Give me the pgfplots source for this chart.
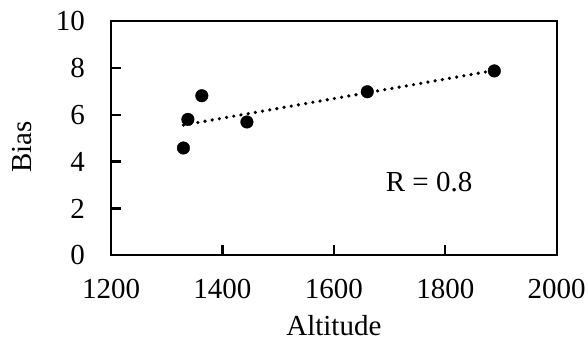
\documentclass[border=0pt]{standalone}
\usepackage{fontspec}
\setmainfont{Liberation Serif}
\usepackage{pgfplots}
\pgfplotsset{compat=1.18}
\begin{document}
\fontsize{29pt}{34pt}\selectfont
\begin{tikzpicture}
\begin{axis}[
  scale only axis, width=445.7pt, height=234.3pt,
  xmin=1200, xmax=2000, ymin=0, ymax=10,
  xtick={1200,1400,1600,1800,2000}, ytick={0,2,4,6,8,10},
  tick align=inside, xtick pos=bottom, ytick pos=left,
  major tick length=10pt,
  axis line style={line width=2.2pt},
  every tick/.style={black, line width=2.2pt},
  /pgf/number format/assume math mode=true,
  /pgf/number format/1000 sep={},
  xticklabel style={anchor=north, inner sep=0pt, yshift=-24pt},
  yticklabel style={anchor=east, inner sep=0pt, xshift=-26pt},
  xlabel={Altitude}, ylabel={Bias},
  every axis x label/.style={at={([yshift=-80.5pt]axis description cs:0.5,0)}, anchor=base},
  every axis y label/.style={at={([xshift=-79pt]axis description cs:0,0.4635)}, anchor=base, rotate=90},
  clip=false,
]
\coordinate (bl) at (rel axis cs:0,0);
\coordinate (tr) at (rel axis cs:1,1);
\addplot[black, line width=3.6pt, dash pattern=on 0pt off 7.3pt, line cap=round] coordinates {(1330,5.56) (1888,7.89)};
\addplot[only marks, mark=*, mark size=6.3pt, black] coordinates {
  (1330,4.58) (1338,5.80) (1363,6.81) (1444,5.69) (1660,6.98) (1888,7.87)};
\node[anchor=base] at (axis cs:1771,2.71) {R = 0.8};
\end{axis}
\pgfresetboundingbox
\path ([shift={(-111pt,-85.7pt)}]bl) rectangle ([shift={(31.3pt,21pt)}]tr);
\end{tikzpicture}
\end{document}
